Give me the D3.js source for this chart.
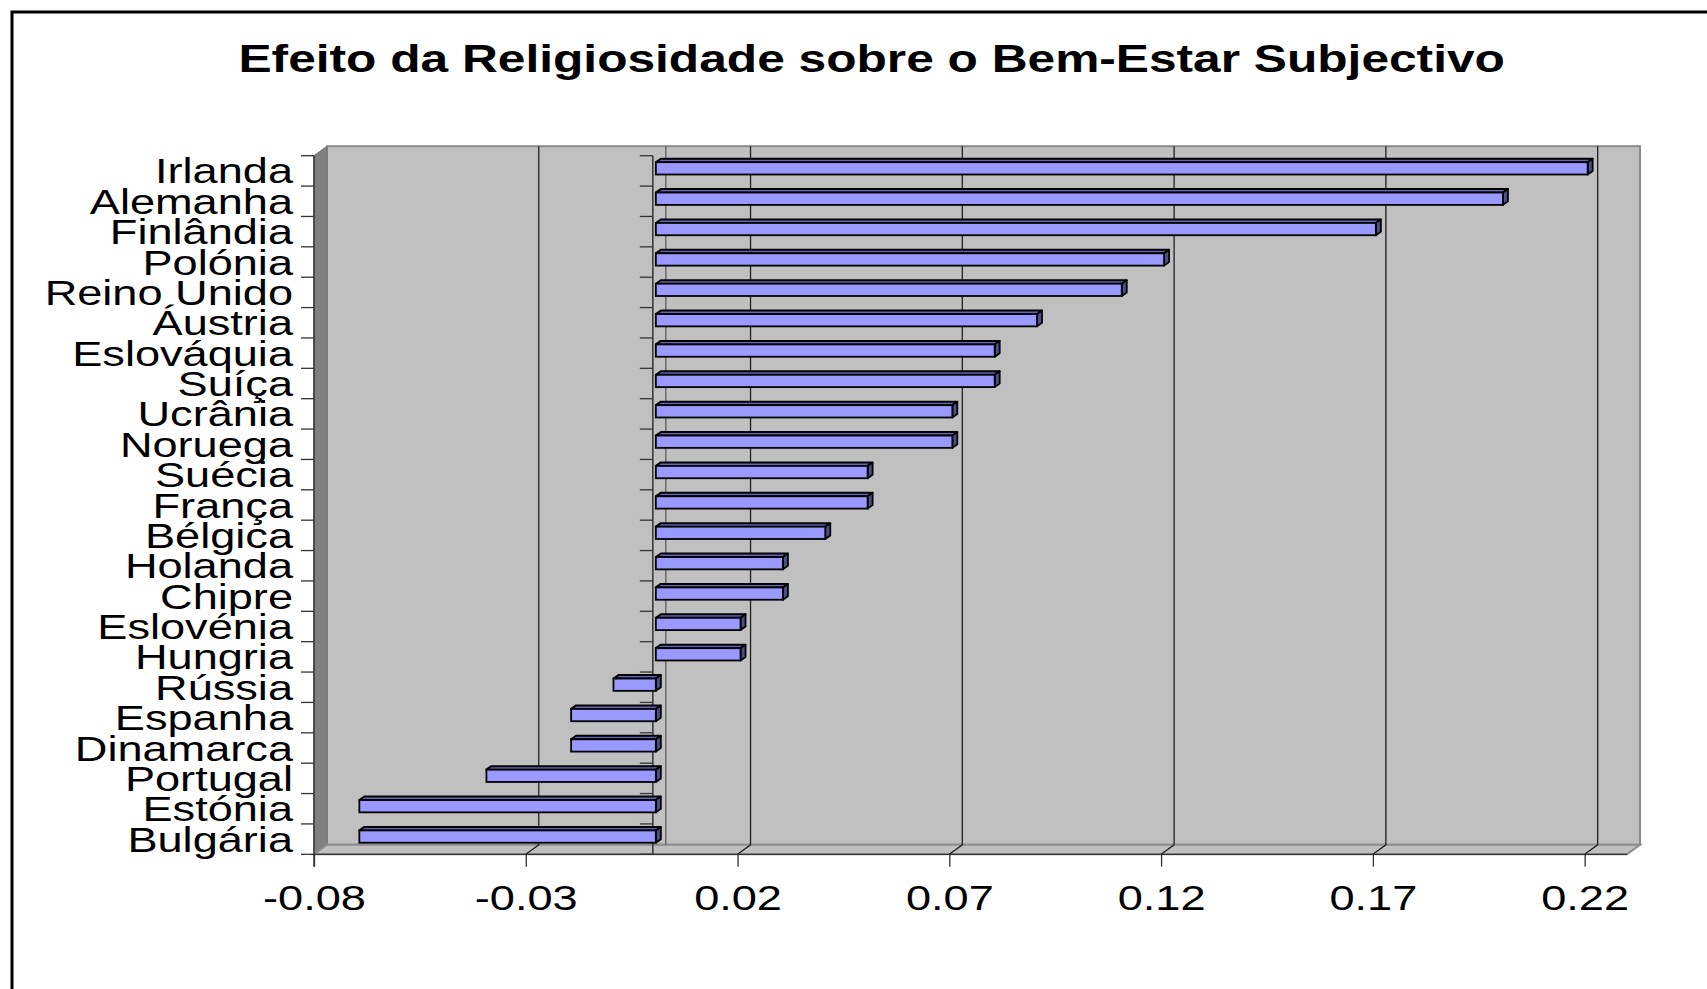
<!DOCTYPE html>
<html lang="pt">
<head>
<meta charset="utf-8">
<title>Efeito da Religiosidade sobre o Bem-Estar Subjectivo</title>
<script src="https://cdn.jsdelivr.net/npm/d3@7"></script>
<style>
  body { margin: 0; background: #fff; }
  text { font-family: "Liberation Sans", Arial, Helvetica, sans-serif; fill: #000; }
</style>
</head>
<body>
<script>
// Data, top to bottom as in the chart
var countries = ["Irlanda", "Alemanha", "Finlândia", "Polónia", "Reino Unido", "Áustria",
  "Eslováquia", "Suíça", "Ucrânia", "Noruega", "Suécia", "França", "Bélgica", "Holanda",
  "Chipre", "Eslovénia", "Hungria", "Rússia", "Espanha", "Dinamarca", "Portugal",
  "Estónia", "Bulgária"];
var values = [0.22, 0.20, 0.17, 0.12, 0.11, 0.09, 0.08, 0.08, 0.07, 0.07, 0.05, 0.05,
  0.04, 0.03, 0.03, 0.02, 0.02, -0.01, -0.02, -0.02, -0.04, -0.07, -0.07];
var tickValues = [-0.08, -0.03, 0.02, 0.07, 0.12, 0.17, 0.22];
var tickLabels = ["-0.08", "-0.03", "0.02", "0.07", "0.12", "0.17", "0.22"];
var title = "Efeito da Religiosidade sobre o Bem-Estar Subjectivo";

var w = 1707, h = 989;
var stretch = 1.29;          // text in the original is stretched horizontally
var dx = 13, dy = -9.5;      // depth of the 3D walls
var bdx = 5, bdy = -3.5;     // depth of each bar
var pLeft = 314, pRight = 1627, pTop = 155.7, pBottom = 854.3;

var data = countries.map(function(c, i) { return { name: c, value: values[i] }; });

var x = d3.scaleLinear().domain([-0.08, 0.23]).range([pLeft, pRight]);
var y = d3.scaleBand().domain(countries).range([pTop, pBottom]).padding(0);

var svg = d3.select("body").append("svg")
  .attr("width", w)
  .attr("height", h);

// outer frame
svg.append("rect")
  .attr("x", 12).attr("y", 12)
  .attr("width", 1800).attr("height", 1100)
  .attr("fill", "none")
  .attr("stroke", "#000")
  .attr("stroke-width", 3);

// title
svg.append("text")
  .attr("transform", "translate(871.7,71.7) scale(" + stretch + ",1)")
  .attr("text-anchor", "middle")
  .attr("font-size", 38.5)
  .attr("font-weight", "bold")
  .text(title);

// back wall
svg.append("rect")
  .attr("x", pLeft + dx).attr("y", pTop + dy)
  .attr("width", pRight - pLeft).attr("height", pBottom - pTop)
  .attr("fill", "#c0c0c0")
  .attr("stroke", "#8c8c8c")
  .attr("stroke-width", 2);

// side wall
svg.append("path")
  .attr("d", "M" + pLeft + "," + pTop + "L" + (pLeft + dx) + "," + (pTop + dy) +
    "L" + (pLeft + dx) + "," + (pBottom + dy) + "L" + pLeft + "," + pBottom + "Z")
  .attr("fill", "#808080")
  .attr("stroke", "#707070")
  .attr("stroke-width", 1);

// floor
svg.append("path")
  .attr("d", "M" + pLeft + "," + pBottom + "L" + pRight + "," + pBottom +
    "L" + (pRight + dx) + "," + (pBottom + dy) + "L" + (pLeft + dx) + "," + (pBottom + dy) + "Z")
  .attr("fill", "#c0c0c0")
  .attr("stroke", "#8c8c8c")
  .attr("stroke-width", 2);

svg.append("line")
  .attr("x1", pLeft).attr("x2", pRight)
  .attr("y1", pBottom).attr("y2", pBottom)
  .attr("stroke", "#333")
  .attr("stroke-width", 1.3);

// gridlines on the back wall and across the floor
var grid = svg.append("g");
tickValues.slice(1).forEach(function(t) {
  grid.append("path")
    .attr("d", "M" + (x(t) + dx) + "," + (pTop + dy) + "L" + (x(t) + dx) + "," + (pBottom + dy) +
      "L" + x(t) + "," + pBottom)
    .attr("fill", "none")
    .attr("stroke", "#222")
    .attr("stroke-width", 1.3);
});

// back line at zero
svg.append("line")
  .attr("x1", x(0) + dx).attr("x2", x(0) + dx)
  .attr("y1", pTop + dy).attr("y2", pBottom + dy)
  .attr("stroke", "#555")
  .attr("stroke-width", 1.2);

// x axis (ticks + labels)
var xAxis = d3.axisBottom(x)
  .tickValues(tickValues)
  .tickFormat(function(d, i) { return tickLabels[i]; })
  .tickSize(12.4);

var gx = svg.append("g")
  .attr("transform", "translate(0," + pBottom + ")")
  .call(xAxis);
gx.select(".domain").remove();
gx.attr("font-family", null).attr("font-size", null);
gx.selectAll("line").attr("stroke", "#333").attr("stroke-width", 1.3);
gx.selectAll("text")
  .attr("y", 55.7)
  .attr("dy", 0)
  .attr("font-size", 35)
  .attr("transform", "scale(" + stretch + ",1)");

// category axis on the left
var bounds = countries.map(function(c) { return y(c); }).concat([pBottom]);
var gy = svg.append("g");
gy.append("line")
  .attr("x1", pLeft).attr("x2", pLeft)
  .attr("y1", pTop).attr("y2", pBottom + 12.4)
  .attr("stroke", "#333").attr("stroke-width", 1.5);
gy.selectAll("line.tk").data(bounds).enter().append("line")
  .attr("class", "tk")
  .attr("x1", pLeft - 13).attr("x2", pLeft)
  .attr("y1", function(d) { return d; })
  .attr("y2", function(d) { return d; })
  .attr("stroke", "#333").attr("stroke-width", 1.3);
gy.selectAll("text").data(countries).enter().append("text")
  .attr("transform", function(d) {
    return "translate(293," + (y(d) + y.bandwidth() / 2) + ") scale(" + stretch + ",1)";
  })
  .attr("dy", "0.36em")
  .attr("text-anchor", "end")
  .attr("font-size", 35)
  .text(function(d) { return d; });

// zero axis with ticks
var gz = svg.append("g");
gz.append("line")
  .attr("x1", x(0)).attr("x2", x(0))
  .attr("y1", pTop).attr("y2", pBottom)
  .attr("stroke", "#333").attr("stroke-width", 1.5);
gz.selectAll("line.tk").data(bounds).enter().append("line")
  .attr("class", "tk")
  .attr("x1", x(0) - 13).attr("x2", x(0))
  .attr("y1", function(d) { return d; })
  .attr("y2", function(d) { return d; })
  .attr("stroke", "#333").attr("stroke-width", 1.3);

// 3D bars
var shift = 3;
var bars = svg.append("g").selectAll("g").data(data).enter().append("g");

function x0(d) { return Math.min(x(0), x(d.value)) + shift; }
function x1(d) { return Math.max(x(0), x(d.value)) + shift; }
function yt(d) { return y(d.name) + 6.5; }
function yb(d) { return y(d.name) + 18.8; }

bars.append("path")  // top face
  .attr("d", function(d) {
    return "M" + x0(d) + "," + yt(d) + "L" + (x0(d) + bdx) + "," + (yt(d) + bdy) +
      "L" + (x1(d) + bdx) + "," + (yt(d) + bdy) + "L" + x1(d) + "," + yt(d) + "Z";
  })
  .attr("fill", "#6666b8")
  .attr("stroke", "#000").attr("stroke-width", 2).attr("stroke-linejoin", "round");

bars.append("path")  // end face
  .attr("d", function(d) {
    return "M" + x1(d) + "," + yt(d) + "L" + (x1(d) + bdx) + "," + (yt(d) + bdy) +
      "L" + (x1(d) + bdx) + "," + (yb(d) + bdy) + "L" + x1(d) + "," + yb(d) + "Z";
  })
  .attr("fill", "#4d4d88")
  .attr("stroke", "#000").attr("stroke-width", 1.8).attr("stroke-linejoin", "round");

bars.append("rect")  // front face
  .attr("x", x0)
  .attr("y", yt)
  .attr("width", function(d) { return x1(d) - x0(d); })
  .attr("height", function(d) { return yb(d) - yt(d); })
  .attr("fill", "#9999ff")
  .attr("stroke", "#000").attr("stroke-width", 1.8);
</script>
</body>
</html>
